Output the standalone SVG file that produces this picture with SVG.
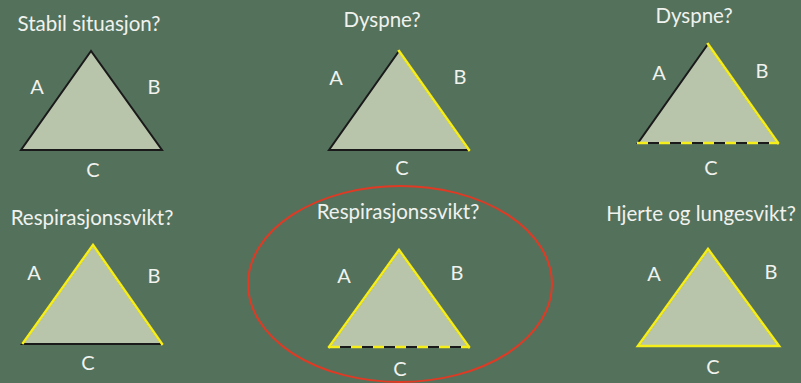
<svg xmlns="http://www.w3.org/2000/svg" width="801" height="383" viewBox="0 0 801 383">
<style>
.bg{fill:#54715C}
.tri{fill:#B8C5AB;stroke:#1a1a1a;stroke-width:2;stroke-linejoin:miter}
.y{stroke:#F5EE1A;stroke-width:2.6;fill:none;stroke-linecap:square}
.yd{stroke:#F5EE1A;stroke-width:2.6;fill:none;stroke-dasharray:11 11}
.t{font-family:Lato,"Open Sans",sans-serif;fill:#F0F2EE;text-anchor:middle}
.title{font-size:20.5px}
.lab{font-size:20px}
.oval{fill:none;stroke:#E03A24;stroke-width:2}
</style>
<rect class="bg" x="0" y="0" width="801" height="383"/>
<g id="panel1">
<text class="t title" x="89" y="31">Stabil situasjon?</text>
<polygon class="tri" points="91,51 21,150 162,150"/>
<text class="t lab" x="37" y="94">A</text>
<text class="t lab" x="154" y="94">B</text>
<text class="t lab" x="93" y="177">C</text>
</g>
<g id="panel2">
<text class="t title" x="382" y="27">Dyspne?</text>
<polygon class="tri" points="399,51 329,150 469,150"/>
<line class="y" x1="399" y1="51" x2="469" y2="150"/>
<text class="t lab" x="336" y="85">A</text>
<text class="t lab" x="460" y="84">B</text>
<text class="t lab" x="402" y="175">C</text>
</g>
<g id="panel3">
<text class="t title" x="694" y="23">Dyspne?</text>
<polygon class="tri" points="708,44 638,143 778,143"/>
<line class="y" x1="708" y1="44" x2="778" y2="143"/>
<line class="yd" x1="637" y1="143" x2="779" y2="143"/>
<text class="t lab" x="659" y="80">A</text>
<text class="t lab" x="762" y="78">B</text>
<text class="t lab" x="711" y="175">C</text>
</g>
<g id="panel4">
<text class="t title" x="92" y="225">Respirasjonssvikt?</text>
<polygon class="tri" points="93,245 22,344 162,344"/>
<polyline class="y" points="23,343 93,245 162,344"/>
<text class="t lab" x="34" y="280">A</text>
<text class="t lab" x="154" y="283">B</text>
<text class="t lab" x="88" y="370">C</text>
</g>
<g id="panel5">
<ellipse class="oval" cx="400" cy="284" rx="152" ry="98"/>
<text class="t title" x="398" y="219">Respirasjonssvikt?</text>
<polygon class="tri" points="399,250 329,347 469,347"/>
<polyline class="y" points="329,347 399,250 469,347"/>
<line class="yd" x1="329" y1="347" x2="470" y2="347"/>
<text class="t lab" x="344" y="283">A</text>
<text class="t lab" x="457" y="280">B</text>
<text class="t lab" x="400" y="376">C</text>
</g>
<g id="panel6">
<text class="t title" x="701" y="221">Hjerte og lungesvikt?</text>
<polygon class="tri" points="708,249 638,346 779,346"/>
<polygon class="y" points="708,249 638,346 779,346"/>
<text class="t lab" x="654" y="281">A</text>
<text class="t lab" x="771" y="279">B</text>
<text class="t lab" x="713" y="374">C</text>
</g>
</svg>
